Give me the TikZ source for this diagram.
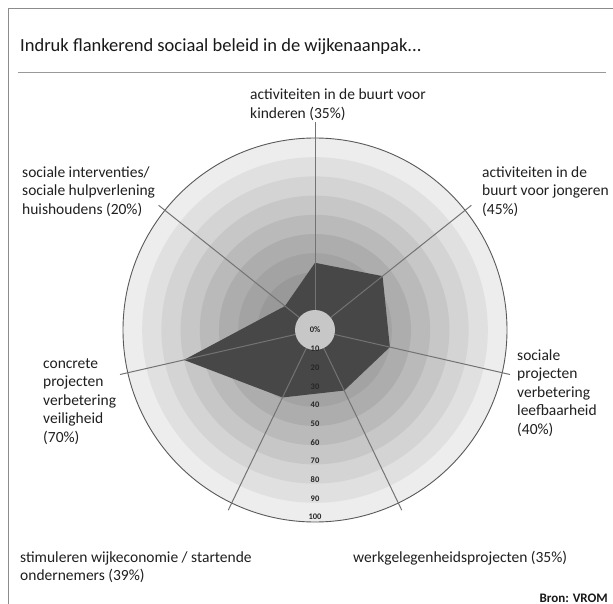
\documentclass[tikz,border=0pt]{standalone}
\usepackage{fontspec}
\setmainfont{Carlito}
\begin{document}
\begin{tikzpicture}[x=1pt,y=-1pt,
  lbl/.style={font=\fontsize{15.5}{18.6}\selectfont, align=left, inner sep=0pt, anchor=base west, text=black!88},
  ringlbl/.style={font=\fontsize{8.5}{9}\selectfont\bfseries, inner sep=0pt, text=black!85},
  spoke/.style={draw=black!55, line width=1pt},
  framel/.style={draw=black!45, line width=1pt}]
\useasboundingbox (0,0) rectangle (613,604);
\fill[white] (0,0) rectangle (613,604);
\draw[framel] (8,604) -- (8,9) -- (613,9);
\draw[draw=black!40, line width=1pt] (18,73) -- (606,73);
\node[font=\fontsize{18.5}{22}\selectfont, anchor=base west, inner sep=0pt, text=black!90] (title) at (20,52) {Indruk flankerend sociaal beleid in de wijkenaanpak...};

\begin{scope}[shift={(315,330)}, y=1pt]
  \foreach \k/\g in {10/93, 9/88, 8/83, 7/78, 6/73, 5/68, 4/64, 3/60, 2/56, 1/53}
    \fill[white!\g!black] (0,0) circle ({\k*19.2});
  \draw[black!65, line width=0.9pt] (0,0) circle (192);
  \fill[black!72] (90:67.2) -- (38.57:86.4) -- (-12.86:76.8) -- (-64.29:67.2)
     -- (-115.71:74.88) -- (-167.14:134.4) -- (141.43:38.4) -- cycle;
  \foreach \a/\n/\r in {90/a/208, 38.57/b/200, -12.86/c/200, -64.29/d/200, -115.71/e/200, -167.14/f/200, 141.43/g/200}{
    \coordinate (s\n) at (\a:20);
    \coordinate (e\n) at (\a:\r);
    \draw[spoke] (s\n) -- (e\n);
  }
  \fill[white!78!black] (0,0) circle (20);
  \node[ringlbl] (p0) at (0,0) {0\%};
  \foreach \k in {1,...,10}
    \node[ringlbl] (p\k) at (0,{-19-(\k-1)*18.67}) {\the\numexpr\k*10\relax};
\end{scope}

\node[lbl] (la) at (250,118.6) {activiteiten in de buurt voor\\kinderen (35\%)};
\node[lbl] (lg) at (22,214.2) {sociale interventies/\\sociale hulpverlening\\huishoudens (20\%)};
\node[lbl] (lb) at (482,214.2) {activiteiten in de\\buurt voor jongeren\\(45\%)};
\node[lbl] (lc) at (517,434.4) {sociale\\projecten\\verbetering\\leefbaarheid\\(40\%)};
\node[lbl] (lf) at (43,442.4) {concrete\\projecten\\verbetering\\veiligheid\\(70\%)};
\node[lbl] (le) at (20,580.6) {stimuleren wijkeconomie / startende\\ondernemers (39\%)};
\node[lbl] (ld) at (353,562) {werkgelegenheidsprojecten (35\%)};
\node[font=\fontsize{13}{15}\selectfont\bfseries, anchor=base east, inner sep=0pt, text=black!90] (src) at (608,602) {Bron: VROM};
\end{tikzpicture}
\end{document}
